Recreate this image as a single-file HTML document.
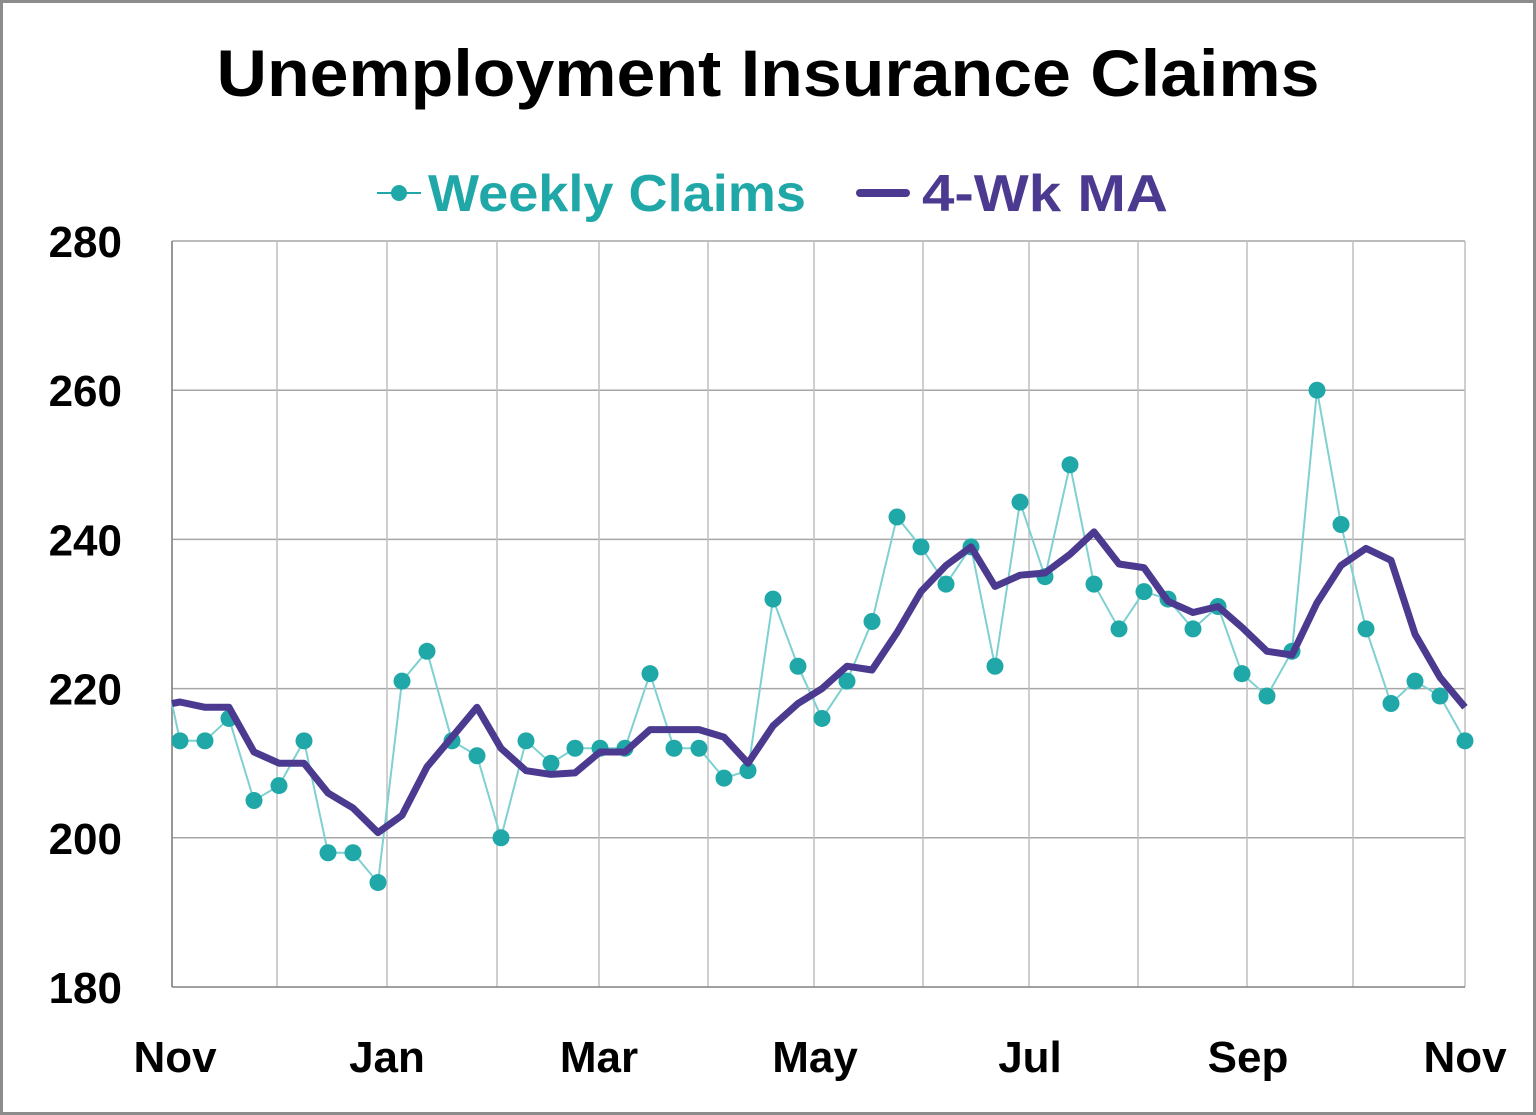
<!DOCTYPE html>
<html><head><meta charset="utf-8"><style>
html,body{margin:0;padding:0;background:#fff}
svg{display:block}
text{font-family:"Liberation Sans",sans-serif;font-weight:bold}
</style></head><body>
<svg id="s" width="1536" height="1115" xmlns="http://www.w3.org/2000/svg">
<rect x="1.5" y="1.5" width="1533" height="1112" fill="#fff" stroke="#8c8c8c" stroke-width="3"/>
<text x="768" y="96" font-size="66" text-anchor="middle" textLength="1103" lengthAdjust="spacingAndGlyphs">Unemployment Insurance Claims</text>
<line x1="377" y1="193" x2="421" y2="193" stroke="#20a8a8" stroke-width="2"/>
<circle cx="399" cy="193" r="8" fill="#20a8a8"/>
<text x="428" y="211" font-size="52" fill="#20a8a8" textLength="378" lengthAdjust="spacingAndGlyphs">Weekly Claims</text>
<line x1="860" y1="193" x2="906" y2="193" stroke="#4b3a8f" stroke-width="8" stroke-linecap="round"/>
<text x="922" y="211" font-size="52" fill="#4b3a8f" textLength="246" lengthAdjust="spacingAndGlyphs">4-Wk MA</text>
<g id="grid"></g>
<g id="data"></g>
</svg>
<script>
var NS="http://www.w3.org/2000/svg",s=document.getElementById('s'),g=document.getElementById('grid'),d=document.getElementById('data');
function el(p,t,a){var e=document.createElementNS(NS,t);for(var k in a)e.setAttribute(k,a[k]);p.appendChild(e);return e;}
function Y(v){return 987-(v-180)*7.46;}
[200,220,240,260,280].forEach(function(v){el(g,'line',{x1:172,x2:1465,y1:Y(v),y2:Y(v),stroke:'#a6a6a6','stroke-width':1.5});});
[172,277,387,497,599,708,814,923,1029,1138,1247,1353,1465].forEach(function(x){el(g,'line',{x1:x,x2:x,y1:241,y2:987,stroke:'#bfbfbf','stroke-width':1.5});});
el(g,'line',{x1:172,x2:172,y1:241,y2:987,stroke:'#808080','stroke-width':1.5});
el(g,'line',{x1:172,x2:1465,y1:987,y2:987,stroke:'#808080','stroke-width':1.5});
[180,200,220,240,260,280].forEach(function(v){var t=el(s,'text',{x:122,y:Y(v)+16,'font-size':44,'text-anchor':'end'});t.textContent=v;});
[['Nov',175],['Jan',387],['Mar',599],['May',815],['Jul',1030],['Sep',1248],['Nov',1465]].forEach(function(m){var t=el(s,'text',{x:m[1],y:1072,'font-size':44,'text-anchor':'middle'});t.textContent=m[0];});
var W=[[172,218],[180,213],[205,213],[229,216],[254,205],[279,207],[304,213],[328,198],[353,198],[378,194],[402,221],[427,225],[452,213],[477,211],[501,200],[526,213],[551,210],[575,212],[600,212],[625,212],[650,222],[674,212],[699,212],[724,208],[748,209],[773,232],[798,223],[822,216],[847,221],[872,229],[897,243],[921,239],[946,234],[971,239],[995,223],[1020,245],[1045,235],[1070,250],[1094,234],[1119,228],[1144,233],[1168,232],[1193,228],[1218,231],[1242,222],[1267,219],[1292,225],[1317,260],[1341,242],[1366,228],[1391,218],[1415,221],[1440,219],[1465,213]];
var M=[[172,218],[180,218.2],[205,217.5],[229,217.5],[254,211.5],[279,210],[304,210],[328,206],[353,204],[378,200.7],[402,203],[427,209.5],[452,213.5],[477,217.5],[501,212],[526,209],[551,208.5],[575,208.7],[600,211.5],[625,211.5],[650,214.5],[674,214.5],[699,214.5],[724,213.5],[748,210],[773,215],[798,218],[822,220],[847,223],[872,222.5],[897,227.5],[921,233],[946,236.5],[971,239],[995,233.7],[1020,235.2],[1045,235.5],[1070,238],[1094,241],[1119,236.7],[1144,236.2],[1168,231.7],[1193,230.2],[1218,231],[1242,228.2],[1267,225],[1292,224.5],[1317,231.5],[1341,236.5],[1366,238.8],[1391,237.2],[1415,227.3],[1440,221.5],[1465,217.5]];
function pts(a){return a.map(function(p){return p[0]+','+Y(p[1]).toFixed(1);}).join(' ');}
el(d,'polyline',{points:pts(W),fill:'none',stroke:'#7fd0d0','stroke-width':2});
W.slice(1).forEach(function(p){el(d,'circle',{cx:p[0],cy:Y(p[1]),r:8.5,fill:'#20a8a8'});});
el(d,'polyline',{points:pts(M),fill:'none',stroke:'#4b3a8f','stroke-width':7,'stroke-linejoin':'round'});
</script>
</body></html>
